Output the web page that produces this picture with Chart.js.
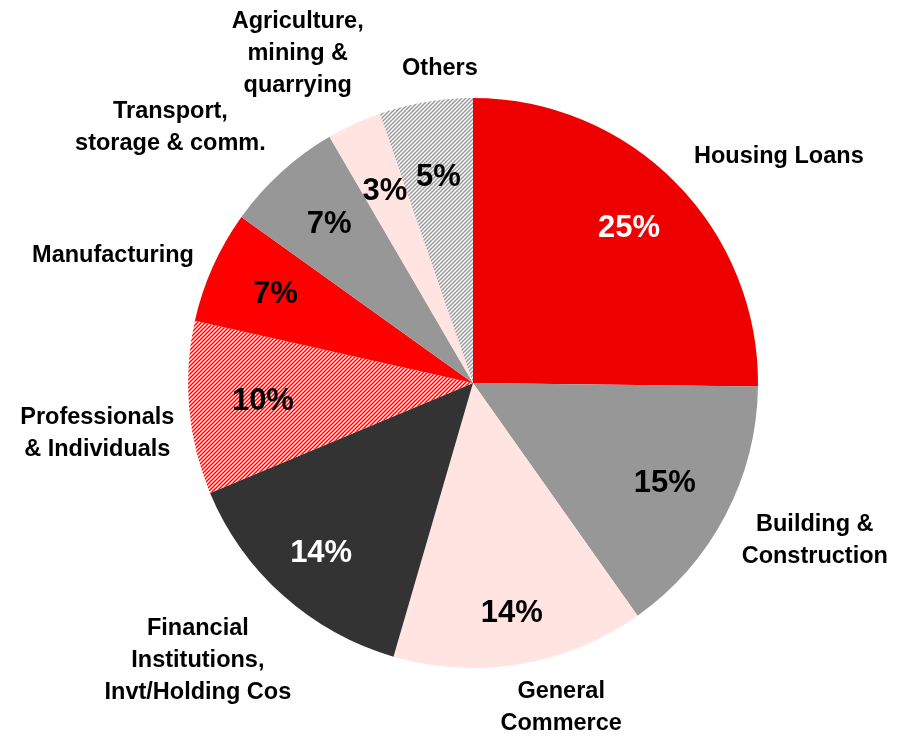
<!DOCTYPE html>
<html>
<head>
<meta charset="utf-8">
<script src="https://cdn.jsdelivr.net/npm/chart.js@4"></script>
<style>
html,body{margin:0;padding:0;background:#fff;}
#wrap{width:908px;height:736px;position:relative;}
</style>
</head>
<body>
<div id="wrap"><canvas id="c" width="908" height="736"></canvas></div>
<script>
// ---- data ----
const categories = [
  ["Housing Loans"],
  ["Building &", "Construction"],
  ["General", "Commerce"],
  ["Financial", "Institutions,", "Invt/Holding Cos"],
  ["Professionals", "& Individuals"],
  ["Manufacturing"],
  ["Transport,", "storage & comm."],
  ["Agriculture,", "mining &", "quarrying"],
  ["Others"]
];
const shares = [25.2, 15.0, 14.3, 14.2, 9.8, 6.4, 6.7, 3.1, 5.3];
const shareLabels = ["25%", "15%", "14%", "14%", "10%", "7%", "7%", "3%", "5%"];

// ---- styling / placement ----
function hatch(color) {
  const s = 4;
  const c = document.createElement('canvas');
  c.width = s; c.height = s;
  const x = c.getContext('2d');
  x.fillStyle = '#ffffff';
  x.fillRect(0, 0, s, s);
  x.strokeStyle = color;
  x.lineWidth = 1.5;
  x.beginPath();
  x.moveTo(-1, s + 1); x.lineTo(s + 1, -1);
  x.moveTo(-1, 1); x.lineTo(1, -1);
  x.moveTo(s - 1, s + 1); x.lineTo(s + 1, s - 1);
  x.stroke();
  return document.getElementById('c').getContext('2d').createPattern(c, 'repeat');
}
const fills = [
  'rgb(238,0,0)', '#979797', '#ffe4e1', '#333333', hatch('#ff0000'),
  'rgb(255,0,0)', '#979797', '#ffe4e1', hatch('#999999')
];
const pctColors = ['#ffffff', '#000', '#000', '#ffffff', '#000', '#000', '#000', '#000', '#000'];
// outer label placement: [angle clockwise from top (deg), distance / radius]
const outerPos = [
  [53.5, 1.335], [114.7, 1.32], [164.8, 1.18], [224.8, 1.37], [262.4, 1.33],
  [289.5, 1.34], [310.2, 1.39], [332, 1.31], [354, 1.11]
];
const pctRadius = [0.77, 0.76, 0.82, 0.80, 0.74, 0.76, 0.75, 0.74, 0.73];

const labelPlugin = {
  id: 'labels',
  afterDatasetsDraw(chart) {
    const ctx = chart.ctx;
    const meta = chart.getDatasetMeta(0);
    ctx.save();
    ctx.textAlign = 'center';
    ctx.textBaseline = 'middle';
    meta.data.forEach((arc, i) => {
      const p = arc.getProps(['x', 'y', 'startAngle', 'endAngle', 'outerRadius'], true);
      const mid = (p.startAngle + p.endAngle) / 2;
      const r = p.outerRadius * pctRadius[i];
      ctx.font = 'bold 31px "Liberation Sans", Arial, sans-serif';
      ctx.fillStyle = pctColors[i];
      ctx.fillText(shareLabels[i], p.x + Math.cos(mid) * r, p.y + Math.sin(mid) * r);

      const a = outerPos[i][0] * Math.PI / 180;
      const R = p.outerRadius * outerPos[i][1];
      const cx = p.x + Math.sin(a) * R;
      const cy = p.y - Math.cos(a) * R;
      const lines = categories[i];
      const lh = 32;
      ctx.font = 'bold 23.5px "Liberation Sans", Arial, sans-serif';
      ctx.fillStyle = '#000';
      lines.forEach((t, k) => {
        ctx.fillText(t, cx, cy + (k - (lines.length - 1) / 2) * lh);
      });
    });
    ctx.restore();
  }
};

new Chart(document.getElementById('c'), {
  type: 'pie',
  data: {
    labels: categories.map(c => c.join(' ')),
    datasets: [{ data: shares, backgroundColor: fills, borderWidth: 0 }]
  },
  options: {
    responsive: false,
    animation: false,
    devicePixelRatio: 1,
    layout: { padding: { top: 98, bottom: 68, left: 188, right: 150 } },
    plugins: { legend: { display: false }, tooltip: { enabled: false } }
  },
  plugins: [labelPlugin]
});
</script>
</body>
</html>
